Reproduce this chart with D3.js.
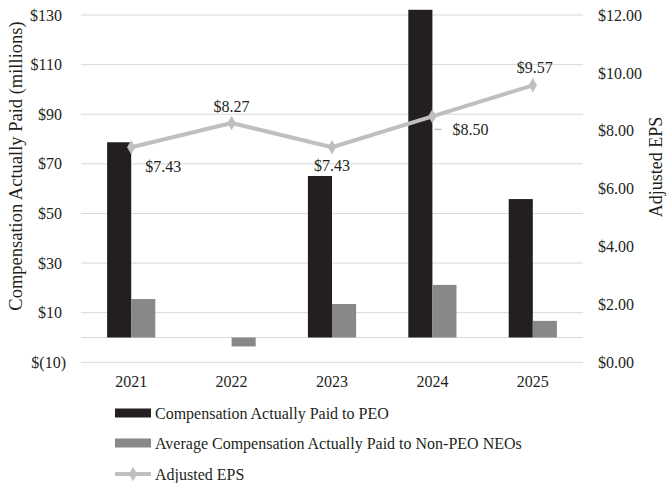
<!DOCTYPE html>
<html>
<head>
<meta charset="utf-8">
<script src="https://cdn.jsdelivr.net/npm/d3@7"></script>
<style>
  html, body { margin: 0; padding: 0; background: #ffffff; }
  svg { display: block; }
  text { font-family: "Liberation Serif", "Times New Roman", serif; fill: #231f20; }
</style>
</head>
<body>
<div id="chart"></div>
<script>
// Fiscal years shown on the category axis
const years = ["2021", "2022", "2023", "2024", "2025"];
// Compensation Actually Paid to PEO ($ millions); no PEO value in 2022
const peoCap = [78.7, null, 65.1, 132.1, 55.8];
// Average Compensation Actually Paid to Non-PEO NEOs ($ millions)
const neoCap = [15.5, -3.6, 13.5, 21.2, 6.7];
// Adjusted EPS ($)
const adjEps = [7.43, 8.27, 7.43, 8.50, 9.57];
// Left axis tick values ($ millions) and right axis tick values ($)
const leftTicks = [-10, 10, 30, 50, 70, 90, 110, 130];
const rightTicks = [0, 2, 4, 6, 8, 10, 12];
// Series names for the legend
const seriesNames = [
  "Compensation Actually Paid to PEO",
  "Average Compensation Actually Paid to Non-PEO NEOs",
  "Adjusted EPS"
];

const W = 668, H = 483;
const plot = { left: 81, right: 583, top: 15, bottom: 362.3 };
const colors = { peo: "#231f20", neo: "#87888a", eps: "#bfbfc1", grid: "#d9d9d9" };

const svg = d3.select("#chart").append("svg")
  .attr("width", W).attr("height", H);

const x = d3.scaleBand().domain(years)
  .range([plot.left, plot.right])
  .paddingInner(0.52).paddingOuter(0.26);
const xSeries = d3.scaleBand().domain(["peo", "neo"]).range([0, x.bandwidth()]);
const yLeft = d3.scaleLinear().domain([-10, 130]).range([plot.bottom, plot.top]);
const yRight = d3.scaleLinear().domain([0, 12]).range([plot.bottom, plot.top]);

// Horizontal gridlines at the left-axis ticks
svg.append("g").selectAll("line").data(leftTicks).join("line")
  .attr("x1", plot.left).attr("x2", plot.right)
  .attr("y1", d => yLeft(d)).attr("y2", d => yLeft(d))
  .attr("stroke", colors.grid).attr("stroke-width", 1);

// Zero baseline
svg.append("line")
  .attr("x1", plot.left).attr("x2", plot.right)
  .attr("y1", yLeft(0)).attr("y2", yLeft(0))
  .attr("stroke", colors.grid).attr("stroke-width", 1);

// Left axis
const fmtLeft = d => d < 0 ? "$(" + Math.abs(d) + ")" : "$" + d;
const leftAxis = svg.append("g")
  .attr("transform", `translate(${plot.left},0)`)
  .call(d3.axisLeft(yLeft).tickValues(leftTicks).tickFormat(fmtLeft).tickSize(0).tickPadding(0));
leftAxis.select(".domain").remove();
leftAxis.selectAll("text")
  .attr("x", d => d < 0 ? -15 : -19)
  .style("font-size", "16px")
  .style("font-family", "Liberation Serif, serif")
  .attr("fill", "#231f20");

// Right axis
const rightAxis = svg.append("g")
  .attr("transform", `translate(${plot.right},0)`)
  .call(d3.axisRight(yRight).tickValues(rightTicks)
    .tickFormat(d => "$" + d3.format(".2f")(d)).tickSize(0).tickPadding(15));
rightAxis.select(".domain").remove();
rightAxis.selectAll("text")
  .style("font-size", "16px")
  .style("font-family", "Liberation Serif, serif")
  .attr("fill", "#231f20");

// Category axis labels
const xAxis = svg.append("g")
  .attr("transform", `translate(0,${plot.bottom})`)
  .call(d3.axisBottom(x).tickSize(0).tickPadding(13));
xAxis.select(".domain").remove();
xAxis.selectAll("text")
  .style("font-size", "16px")
  .style("font-family", "Liberation Serif, serif")
  .attr("fill", "#231f20");

// Bars
const barRows = years.map((yr, i) => [
  { year: yr, key: "peo", value: peoCap[i] },
  { year: yr, key: "neo", value: neoCap[i] }
]).flat().filter(d => d.value !== null);

svg.append("g").selectAll("rect").data(barRows).join("rect")
  .attr("x", d => x(d.year) + xSeries(d.key))
  .attr("width", xSeries.bandwidth())
  .attr("y", d => yLeft(Math.max(0, d.value)))
  .attr("height", d => Math.abs(yLeft(d.value) - yLeft(0)))
  .attr("fill", d => colors[d.key]);

// Adjusted EPS line on the right axis
const epsPts = years.map((yr, i) => ({ year: yr, value: adjEps[i] }));
const cx = d => x(d.year) + x.bandwidth() / 2;
svg.append("path")
  .datum(epsPts)
  .attr("fill", "none")
  .attr("stroke", colors.eps)
  .attr("stroke-width", 4)
  .attr("stroke-linejoin", "round")
  .attr("d", d3.line().x(cx).y(d => yRight(d.value)));

const diamond = d3.symbol().type(d3.symbolDiamond).size(60);
svg.append("g").selectAll("path").data(epsPts).join("path")
  .attr("d", diamond)
  .attr("transform", d => `translate(${cx(d)},${yRight(d.value)})`)
  .attr("fill", colors.eps);

// EPS data labels: [dx, dy, anchor]
const labelPos = [
  [14, 25, "start"],
  [0, -11, "middle"],
  [0, 24, "middle"],
  [20, 19, "start"],
  [2, -12, "middle"]
];
svg.append("g").selectAll("text").data(epsPts).join("text")
  .attr("x", (d, i) => cx(d) + labelPos[i][0])
  .attr("y", (d, i) => yRight(d.value) + labelPos[i][1])
  .attr("text-anchor", (d, i) => labelPos[i][2])
  .style("font-size", "16px")
  .text(d => "$" + d3.format(".2f")(d.value));

// Leader line for the 2024 label
const p2024 = epsPts[3];
svg.append("line")
  .attr("x1", cx(p2024) + 2).attr("x2", cx(p2024) + 9)
  .attr("y1", yRight(p2024.value) + 13).attr("y2", yRight(p2024.value) + 13)
  .attr("stroke", "#a6a6a6").attr("stroke-width", 1);

// Axis titles
svg.append("text")
  .attr("transform", `translate(22,166) rotate(-90)`)
  .attr("text-anchor", "middle")
  .style("font-size", "18.5px")
  .text("Compensation Actually Paid (millions)");

svg.append("text")
  .attr("transform", `translate(662,167) rotate(-90)`)
  .attr("text-anchor", "middle")
  .style("font-size", "18px")
  .text("Adjusted EPS");

// Legend
const legend = svg.append("g").attr("transform", "translate(115,0)");
const legendY = [413, 443, 474];
legend.append("rect").attr("x", 0).attr("y", legendY[0] - 4.5).attr("width", 36).attr("height", 9).attr("fill", colors.peo);
legend.append("rect").attr("x", 0).attr("y", legendY[1] - 4.5).attr("width", 36).attr("height", 9).attr("fill", colors.neo);
legend.append("line").attr("x1", 0).attr("x2", 36).attr("y1", legendY[2]).attr("y2", legendY[2])
  .attr("stroke", colors.eps).attr("stroke-width", 4);
legend.append("path").attr("d", diamond).attr("transform", `translate(18,${legendY[2]})`).attr("fill", colors.eps);
legend.selectAll("text.lg").data(seriesNames).join("text")
  .attr("class", "lg")
  .attr("x", 40)
  .attr("y", (d, i) => legendY[i])
  .attr("dy", "0.35em")
  .style("font-size", "16px")
  .text(d => d);
</script>
</body>
</html>
